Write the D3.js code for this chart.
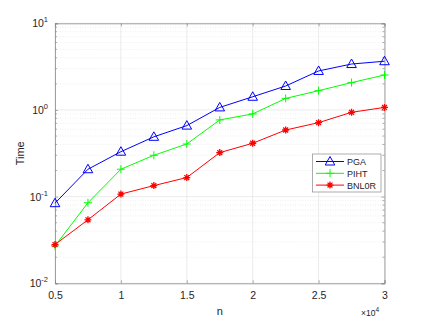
<!DOCTYPE html>
<html><head><meta charset="utf-8">
<script src="https://cdn.jsdelivr.net/npm/d3@7"></script>
<style>body{margin:0;background:#fff}svg{display:block}text{font-family:"Liberation Sans",Arial,sans-serif}</style>
</head><body><svg id="c" width="425" height="319"></svg>
<script>
const nValues = [5000, 7500, 10000, 12500, 15000, 17500, 20000, 22500, 25000, 27500, 30000];
const pga   = [0.084, 0.207, 0.33, 0.49, 0.66, 1.07, 1.42, 1.89, 2.82, 3.39, 3.65];
const piht  = [0.027, 0.085, 0.207, 0.30, 0.405, 0.767, 0.90, 1.36, 1.67, 2.07, 2.53];
const bnl0r = [0.028, 0.054, 0.107, 0.134, 0.166, 0.322, 0.413, 0.587, 0.714, 0.94, 1.07];
const seriesNames = ["PGA", "PIHT", "BNL0R"];
const xTicks = [5000, 10000, 15000, 20000, 25000, 30000];
const xTickLabels = ["0.5", "1", "1.5", "2", "2.5", "3"];
const yTicks = [0.01, 0.1, 1, 10];
const yTickExps = ["-2", "-1", "0", "1"];

const svg = d3.select("#c");
const L = 55, R = 384.5, T = 23.3, B = 283.3;
const x = d3.scaleLinear().domain([5000, 30000]).range([L, R]);
const y = d3.scaleLog().domain([0.01, 10]).range([B, T]);
const axisCol = "#8a8a8a", txtCol = "#262626";

// minor grid
const minor = [];
for (let d = -2; d < 1; d++) for (let k = 2; k <= 9; k++) minor.push(k * Math.pow(10, d));
svg.append("g").selectAll("line").data(minor).join("line")
  .attr("x1", L).attr("x2", R).attr("y1", d => y(d)).attr("y2", d => y(d))
  .attr("stroke", "#e4e4e4").attr("stroke-width", 0.6).attr("stroke-dasharray", "1,1.5");
// major grid
svg.append("g").selectAll("line").data(yTicks).join("line")
  .attr("x1", L).attr("x2", R).attr("y1", d => y(d)).attr("y2", d => y(d))
  .attr("stroke", "#e2e2e2").attr("stroke-width", 0.7);
svg.append("g").selectAll("line").data(xTicks).join("line")
  .attr("y1", T).attr("y2", B).attr("x1", d => x(d)).attr("x2", d => x(d))
  .attr("stroke", "#e2e2e2").attr("stroke-width", 0.7);

// axes (inward ticks)
const ax = svg.append("g");
const xb = ax.append("g").attr("transform", `translate(0,${B})`)
  .call(d3.axisBottom(x).tickValues(xTicks).tickSize(-3).tickFormat((d, i) => xTickLabels[i]).tickPadding(8));
const xt = ax.append("g").attr("transform", `translate(0,${T})`)
  .call(d3.axisTop(x).tickValues(xTicks).tickSize(-3).tickFormat(""));
const yl = ax.append("g").attr("transform", `translate(${L},0)`)
  .call(d3.axisLeft(y).tickValues(yTicks).tickSize(-3).tickFormat(""));
const yr = ax.append("g").attr("transform", `translate(${R},0)`)
  .call(d3.axisRight(y).tickValues(yTicks).tickSize(-3).tickFormat(""));
// minor ticks
yl.selectAll(".mt").data(minor).join("line").attr("class","mt").attr("x1",0).attr("x2",2).attr("y1",d=>y(d)).attr("y2",d=>y(d));
yr.selectAll(".mt").data(minor).join("line").attr("class","mt").attr("x1",0).attr("x2",-2).attr("y1",d=>y(d)).attr("y2",d=>y(d));
ax.selectAll("path.domain").attr("stroke", axisCol).attr("stroke-width", 0.8);
ax.selectAll("line").attr("stroke", axisCol).attr("stroke-width", 0.7);
xb.selectAll("text").attr("fill", txtCol).attr("font-size", 10.5);

// y labels with superscripts
const ylab = svg.append("g");
yTicks.forEach((v, i) => {
  const t = ylab.append("text").attr("x", 48).attr("y", y(v) + 4).attr("text-anchor", "end")
    .attr("fill", txtCol).attr("font-size", 10.5);
  t.append("tspan").text("10");
  t.append("tspan").attr("dy", -5).attr("font-size", 7.5).text(yTickExps[i]);
});

// axis labels
svg.append("text").attr("transform", `translate(24,${(T + B) / 2}) rotate(-90)`).attr("text-anchor", "middle")
  .attr("fill", txtCol).attr("font-size", 11).text("Time");
svg.append("text").attr("x", (L + R) / 2).attr("y", 315).attr("text-anchor", "middle")
  .attr("fill", txtCol).attr("font-size", 11).text("n");
const ex = svg.append("text").attr("x", 379).attr("y", 316).attr("text-anchor", "end").attr("fill", txtCol).attr("font-size", 8.5);
ex.append("tspan").text("×10");
ex.append("tspan").attr("dy", -4).attr("font-size", 6.5).text("4");

// series
const series = [
  { name: seriesNames[0], vals: pga, color: "#0000ff", marker: "tri" },
  { name: seriesNames[1], vals: piht, color: "#00ff00", marker: "plus" },
  { name: seriesNames[2], vals: bnl0r, color: "#ff0000", marker: "star" }
];
const line = d3.line().x(d => x(d[0])).y(d => y(d[1]));
function drawMarker(g, type, cx, cy, color) {
  if (type === "tri") {
    g.append("path").attr("d", `M${cx},${cy - 5}L${cx + 4.8},${cy + 3.5}L${cx - 4.8},${cy + 3.5}Z`)
      .attr("fill", "none").attr("stroke", color).attr("stroke-width", 1);
  } else if (type === "plus") {
    g.append("path").attr("d", `M${cx - 4},${cy}H${cx + 4}M${cx},${cy - 4}V${cy + 4}`)
      .attr("stroke", color).attr("stroke-width", 1);
  } else {
    const r = 3.5, d = r * 0.7;
    g.append("path").attr("d", `M${cx - r},${cy}H${cx + r}M${cx},${cy - r}V${cy + r}M${cx - d},${cy - d}L${cx + d},${cy + d}M${cx - d},${cy + d}L${cx + d},${cy - d}`)
      .attr("stroke", color).attr("stroke-width", 1.3);
  }
}
series.forEach(s => {
  const pts = nValues.map((n, i) => [n, s.vals[i]]);
  svg.append("path").datum(pts).attr("d", line).attr("fill", "none").attr("stroke", s.color).attr("stroke-width", 1);
  const g = svg.append("g");
  pts.forEach(p => drawMarker(g, s.marker, x(p[0]), y(p[1]), s.color));
});

// legend
const lg = svg.append("g");
lg.append("rect").attr("x", 312.5).attr("y", 154).attr("width", 68.5).attr("height", 38)
  .attr("fill", "#fff").attr("stroke", "#9a9a9a").attr("stroke-width", 0.8);
series.forEach((s, i) => {
  const cy = 161.5 + i * 11.8;
  lg.append("line").attr("x1", 316).attr("x2", 344).attr("y1", cy).attr("y2", cy).attr("stroke", s.color).attr("stroke-width", 1);
  drawMarker(lg, s.marker, 330, cy, s.color);
  lg.append("text").attr("x", 347).attr("y", cy + 3.5).attr("fill", txtCol).attr("font-size", 9).text(s.name);
});
</script></body></html>
